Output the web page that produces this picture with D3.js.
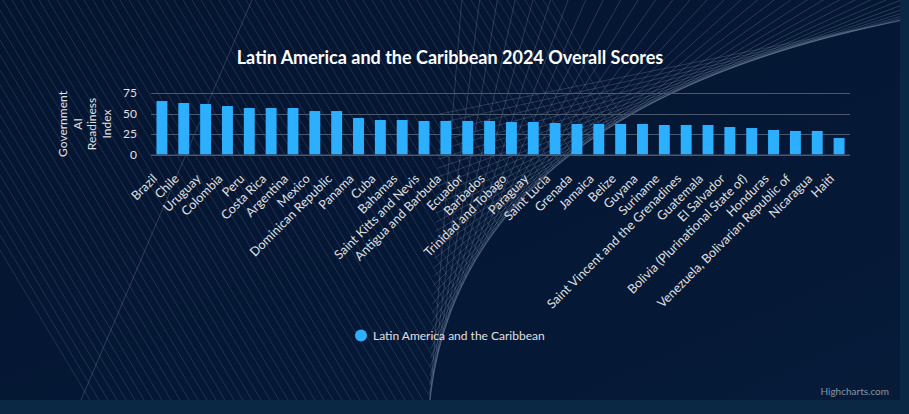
<!DOCTYPE html>
<html>
<head>
<meta charset="utf-8">
<script src="https://cdn.jsdelivr.net/npm/d3@7"></script>
<style>
  html, body { margin: 0; padding: 0; background: #0a2743; }
  svg { display: block; }
</style>
</head>
<body>
<div id="chart"></div>
<script>
const categories = ["Brazil","Chile","Uruguay","Colombia","Peru","Costa Rica","Argentina","Mexico","Dominican Republic","Panama","Cuba","Bahamas","Saint Kitts and Nevis","Antigua and Barbuda","Ecuador","Barbados","Trinidad and Tobago","Paraguay","Saint Lucia","Grenada","Jamaica","Belize","Guyana","Suriname","Saint Vincent and the Grenadines","Guatemala","El Salvador","Bolivia (Plurinational State of)","Honduras","Venezuela, Bolivarian Republic of","Nicaragua","Haiti"];
const values = [65.2,62.8,61.6,59.1,56.7,56.7,56.7,53.0,53.0,44.5,42.1,42.1,40.9,40.9,40.9,40.9,39.6,39.6,38.4,37.2,37.2,37.2,37.2,36.0,36.0,36.0,33.5,32.3,29.9,28.7,28.7,20.1];
const yTicks = [0,25,50,75];
const seriesName = "Latin America and the Caribbean";
const titleText = "Latin America and the Caribbean 2024 Overall Scores";
const yTitleLines = ["Government","AI","Readiness","Index"];

const W = 909, H = 414;
const svg = d3.select("#chart").append("svg").attr("width", W).attr("height", H);

// chart box background
svg.append("rect").attr("x",0).attr("y",0).attr("width",900).attr("height",400).attr("fill","#041530");
const defs = svg.append("defs");
const lg = defs.append("linearGradient").attr("id","bgGrad").attr("x1","0").attr("y1","0").attr("x2","1").attr("y2","1");
lg.append("stop").attr("offset","0").attr("stop-color","#05173a").attr("stop-opacity",0.0);
lg.append("stop").attr("offset","1").attr("stop-color","#07203f").attr("stop-opacity",0.6);
svg.append("rect").attr("x",0).attr("y",0).attr("width",900).attr("height",400).attr("fill","url(#bgGrad)");

defs.append("clipPath").attr("id","boxClip").append("rect").attr("x",0).attr("y",0).attr("width",900).attr("height",400);

// decorative string-art background
const deco = svg.append("g").attr("clip-path","url(#boxClip)");
const P0 = [428, 430], C = [440, 105], P2 = [930, 15];
function bez(t){
  const a=(1-t)*(1-t), b=2*(1-t)*t, c=t*t;
  return [a*P0[0]+b*C[0]+c*P2[0], a*P0[1]+b*C[1]+c*P2[1]];
}
const envPts = d3.range(0,1.0001,0.02).map(bez);
const clipPoly = [[0,0],[560,0]].concat(envPts.slice().reverse().filter(p=>p[1]>10)).concat([[P0[0],H],[0,H]]);
defs.append("clipPath").attr("id","leftClip").append("polygon").attr("points", clipPoly.map(p=>p.join(",")).join(" "));
const par = deco.append("g").attr("clip-path","url(#leftClip)");
d3.range(-150, 560, 9).forEach(x0=>{
  par.append("line").attr("x1",x0).attr("y1",0).attr("x2",x0+0.6*H).attr("y2",H)
    .attr("stroke","#8fa6c4").attr("stroke-opacity",0.24).attr("stroke-width",0.8);
});
deco.append("line").attr("x1",75).attr("y1",414).attr("x2",252).attr("y2",0)
  .attr("stroke","#8fa6c4").attr("stroke-opacity",0.3).attr("stroke-width",0.9);
const nFan = 36;
d3.range(1,nFan).forEach(i=>{
  const t=i/nFan;
  const A=[P0[0]+t*(C[0]-P0[0]), P0[1]+t*(C[1]-P0[1])];
  const B=[C[0]+t*(P2[0]-C[0]), C[1]+t*(P2[1]-C[1])];
  const dx=B[0]-A[0], dy=B[1]-A[1];
  deco.append("line").attr("x1",A[0]).attr("y1",A[1]).attr("x2",A[0]+dx*1.6).attr("y2",A[1]+dy*1.6)
    .attr("stroke","#a9bcd6").attr("stroke-opacity",0.28).attr("stroke-width",0.8);
});

// plot
const plot = {left:151, right:850, top:93, bottom:154.5};
const x = d3.scaleBand().domain(categories).range([plot.left, plot.right]).paddingInner(0.5).paddingOuter(0.25);
const y = d3.scaleLinear().domain([0,75]).range([plot.bottom, plot.top]);

const font = "Lato, 'Noto Sans', sans-serif";

// grid
svg.append("g").selectAll("line").data(yTicks).join("line")
  .attr("x1",plot.left).attr("x2",plot.right)
  .attr("y1",d=>Math.round(y(d))+0.5).attr("y2",d=>Math.round(y(d))+0.5)
  .attr("stroke","#4a586c").attr("stroke-width",1);

// y axis labels via d3 axis
const yAxis = d3.axisLeft(y).tickValues(yTicks).tickSize(0).tickPadding(0);
const yg = svg.append("g").attr("transform",`translate(${plot.left-14},0)`).call(yAxis);
yg.select(".domain").remove();
yg.selectAll("text").attr("fill","#e0e0e3").style("font-family",font).style("font-size","12px").attr("dy","0.32em");

// y title
const yt = svg.append("text").attr("transform",`translate(0,124) rotate(-90)`)
  .attr("text-anchor","middle").attr("fill","#e0e0e3").style("font-family",font).style("font-size","12px");
yTitleLines.forEach((l,i)=>{
  yt.append("tspan").attr("x",0).attr("y",67+i*14.5).text(l);
});

// bars
svg.append("g").selectAll("rect").data(values).join("rect")
  .attr("x",(d,i)=>x(categories[i]))
  .attr("width",x.bandwidth())
  .attr("y",d=>y(d))
  .attr("height",d=>y(0)-y(d))
  .attr("fill","#2caffe");

// x axis
const xAxis = d3.axisBottom(x).tickSize(0).tickPadding(0);
const xg = svg.append("g").attr("transform",`translate(0,${plot.bottom})`).call(xAxis);
xg.select(".domain").attr("stroke","#4a586c").attr("d",`M${plot.left},0.5H${plot.right}`);
xg.selectAll("text")
  .attr("fill","#e0e0e3").style("font-family",font).style("font-size","12.6px")
  .attr("text-anchor","end").attr("dy",null).attr("y",0).attr("x",0)
  .attr("transform","translate(-4,25) rotate(-45)");

// title
svg.append("text").attr("x",450).attr("y",64).attr("text-anchor","middle")
  .attr("fill","#ffffff").style("font-family",font).style("font-size","18px").style("font-weight","bold")
  .text(titleText);

// legend
svg.append("circle").attr("cx",361).attr("cy",335.5).attr("r",6).attr("fill","#2caffe");
svg.append("text").attr("x",373).attr("y",340).attr("fill","#e0e0e3")
  .style("font-family",font).style("font-size","12px").text(seriesName);

// credits
svg.append("text").attr("x",889).attr("y",395).attr("text-anchor","end").attr("fill","#8a93a3")
  .style("font-family",font).style("font-size","10px").text("Highcharts.com");
</script>
</body>
</html>
